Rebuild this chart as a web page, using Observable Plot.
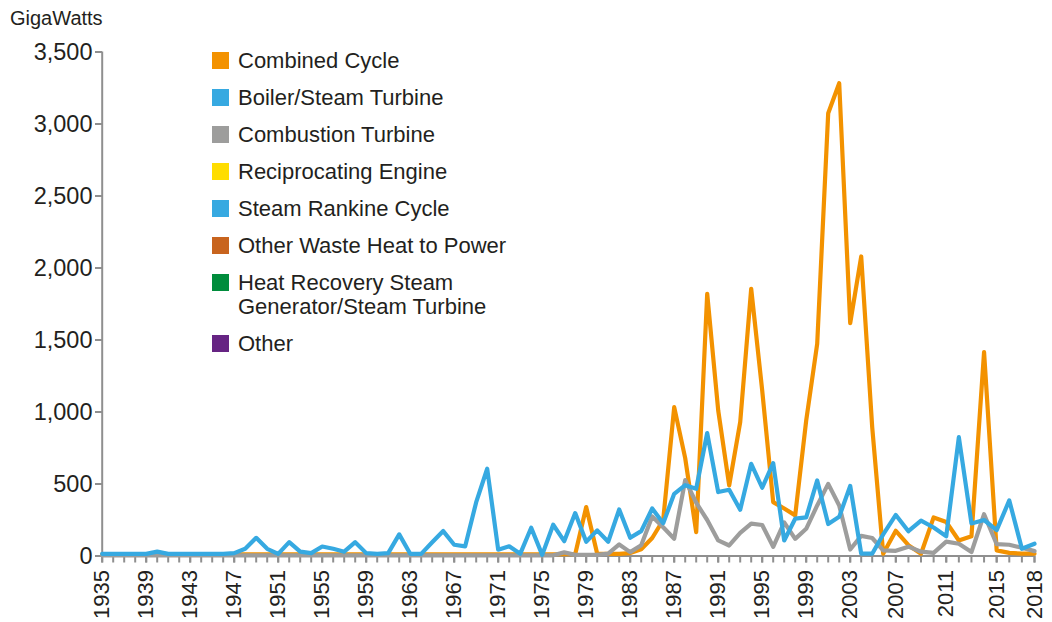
<!DOCTYPE html>
<html>
<head>
<meta charset="utf-8">
<script src="https://cdn.jsdelivr.net/npm/d3@7"></script>
<script src="https://cdn.jsdelivr.net/npm/@observablehq/plot@0.6"></script>
<style>
  body { margin: 0; background: #fff; }
  #chart {
    position: relative; width: 1052px; height: 622px; overflow: hidden;
    font-family: "Liberation Sans", Arial, sans-serif; color: #231f20;
  }
  #chart svg { position: absolute; left: 0; top: 0; }
  #unit { position: absolute; left: 10px; top: 8px; font-size: 20px; line-height: 20px; }
  #legend { position: absolute; left: 212px; top: 48.7px; font-size: 22px; line-height: 24px; }
  .item { display: flex; align-items: flex-start; margin-bottom: 13px; }
  .item:nth-child(5) { margin-top: 3px; }
  .item .sw { width: 17px; height: 17px; margin-top: 3.5px; margin-right: 9px; flex: none; }
  .item .lb { max-width: 280px; }
</style>
</head>
<body>
<div id="chart">
  <div id="unit">GigaWatts</div>
  <div id="legend"></div>
</div>
<script>
// Capacity added per year, 1935–2018
const firstYear = 1935, lastYear = 2018;
const years = d3.range(firstYear, lastYear + 1);

const combinedCycle = [
  12, 12, 12, 12, 12, 12, 12, 12, 12, 12,        // 1935–1944
  12, 12, 12, 12, 12, 12, 12, 12, 12, 12,        // 1945–1954
  12, 12, 12, 12, 12, 12, 12, 12, 12, 12,        // 1955–1964
  12, 12, 12, 12, 12, 12, 12, 12, 12, 12,        // 1965–1974
  12, 12, 12, 12, 340, 15, 15, 15, 20, 47,       // 1975–1984
  125, 250, 1034, 680, 166, 1821, 1011, 490, 930, 1856,   // 1985–1994
  1150, 374, 330, 282, 941, 1474, 3075, 3283, 1617, 2080, // 1995–2004
  895, 16, 175, 75, 16, 268, 236, 108, 137, 1416,         // 2005–2014
  39, 22, 16, 16                                          // 2015–2018
];

const boilerSteamTurbine = [
  15, 15, 15, 15, 15, 30, 15, 15, 15, 15,        // 1935–1944
  15, 15, 20, 50, 126, 50, 15, 96, 30, 20,       // 1945–1954
  66, 50, 30, 96, 20, 15, 20, 150, 15, 15,       // 1955–1964
  95, 173, 78, 67, 374, 606, 44, 67, 15, 196,    // 1965–1974
  8, 217, 103, 298, 99, 178, 99, 323, 127, 173,  // 1975–1984
  330, 228, 432, 492, 467, 854, 444, 460, 321, 640, // 1985–1994
  474, 645, 108, 259, 268, 525, 222, 272, 487, 16,  // 1995–2004
  16, 150, 285, 172, 245, 198, 137, 825, 226, 250,  // 2005–2014
  180, 386, 50, 85                                  // 2015–2018
];

const combustionTurbine = [
  5, 5, 5, 5, 5, 5, 5, 5, 5, 5,                  // 1935–1944
  5, 5, 5, 5, 5, 5, 5, 5, 5, 5,                  // 1945–1954
  5, 5, 5, 5, 5, 5, 5, 5, 5, 5,                  // 1955–1964
  5, 5, 5, 5, 5, 5, 5, 5, 5, 5,                  // 1965–1974
  5, 5, 25, 8, 8, 8, 16, 80, 27, 75,             // 1975–1984
  275, 200, 120, 527, 370, 250, 108, 73, 160, 225, // 1985–1994
  215, 64, 233, 119, 189, 351, 501, 351, 45, 140,  // 1995–2004
  125, 39, 36, 65, 30, 22, 100, 85, 27, 290,       // 2005–2014
  82, 78, 57, 34                                   // 2015–2018
];

// Legend categories and their colours
const seriesNames = [
  "Combined Cycle", "Boiler/Steam Turbine", "Combustion Turbine",
  "Reciprocating Engine", "Steam Rankine Cycle", "Other Waste Heat to Power",
  "Heat Recovery Steam Generator/Steam Turbine", "Other"
];
const seriesColors = [
  "#f39200", "#36a9e1", "#9d9d9c", "#ffdd00",
  "#36a9e1", "#c8641e", "#008c3c", "#662483"
];

const yTicks = [0, 500, 1000, 1500, 2000, 2500, 3000, 3500];
const xLabelYears = [1935, 1939, 1943, 1947, 1951, 1955, 1959, 1963, 1967, 1971,
  1975, 1979, 1983, 1987, 1991, 1995, 1999, 2003, 2007, 2011, 2015, 2018];

// Long-format table; drawing order puts the blue line on top
const drawn = [
  ["Combined Cycle", combinedCycle],
  ["Combustion Turbine", combustionTurbine],
  ["Boiler/Steam Turbine", boilerSteamTurbine]
];
const table = drawn.flatMap(([series, values]) =>
  years.map((year, i) => ({year, series, value: values[i]})));

const axisGray = "#8f8f8f";
const textColor = "#231f20";

const chart = Plot.plot({
  width: 1052,
  height: 622,
  marginLeft: 102,
  marginRight: 18,
  marginTop: 51.5,
  marginBottom: 66.5,
  style: {fontFamily: "'Liberation Sans', Arial, sans-serif", color: textColor, background: "transparent", overflow: "visible"},
  x: {type: "linear", domain: [1935, 2006, 2018], range: [101.7, 882.7, 1034]},
  y: {domain: [0, 3500]},
  color: {domain: seriesNames, range: seriesColors},
  marks: [
    Plot.axisX({ticks: years, tickSize: 7, tickFormat: () => "", stroke: axisGray, strokeWidth: 2, label: null}),
    Plot.axisX({ticks: xLabelYears, tickSize: 7, tickRotate: -90, tickPadding: 7, tickFormat: d => String(d),
      stroke: axisGray, strokeWidth: 2, fill: textColor, fontSize: 22, label: null}),
    Plot.axisY({ticks: yTicks, tickSize: 7, tickPadding: 3, tickFormat: d3.format(","),
      stroke: axisGray, strokeWidth: 2, fill: textColor, fontSize: 23.5, label: null}),
    Plot.ruleX([firstYear], {y1: 0, y2: 3500, stroke: axisGray, strokeWidth: 2}),
    Plot.ruleY([0], {stroke: axisGray, strokeWidth: 2}),
    Plot.line(table, {x: "year", y: "value", z: "series", stroke: "series",
      strokeWidth: 4.2, strokeLinejoin: "round", strokeLinecap: "round"})
  ]
});
document.getElementById("chart").prepend(chart);

// Legend
const legend = d3.select("#legend");
seriesNames.forEach((name, i) => {
  const item = legend.append("div").attr("class", "item");
  item.append("div").attr("class", "sw").style("background", seriesColors[i]);
  item.append("div").attr("class", "lb").text(name);
});
</script>
</body>
</html>
